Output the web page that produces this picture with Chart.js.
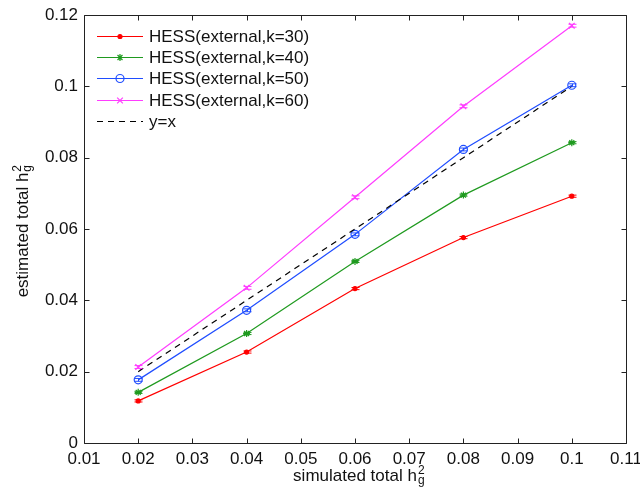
<!DOCTYPE html>
<html><head><meta charset="utf-8">
<script src="https://cdn.jsdelivr.net/npm/chart.js@4/dist/chart.umd.min.js"></script>
<style>html,body{margin:0;padding:0;background:#fff}#wrap{width:640px;height:487px}</style>
</head><body><div id="wrap"><canvas id="c" width="640" height="487"></canvas></div>
<script>
const xVals = [0.02, 0.04, 0.06, 0.08, 0.10];
const k30 = [0.0118, 0.0255, 0.0433, 0.0576, 0.0692];
const k40 = [0.0142, 0.0307, 0.0509, 0.0695, 0.0842];
const k50 = [0.0177, 0.0372, 0.0585, 0.0823, 0.1003];
const k60 = [0.0213, 0.0435, 0.0689, 0.0944, 0.1170];
const k30err = [0.0003, 0.0003, 0.0003, 0.0003, 0.0003];
const k40err = [0.0003, 0.0003, 0.0003, 0.0003, 0.0003];
const k50err = [0.0004, 0.0004, 0.0004, 0.0004, 0.0004];
const k60err = [0.0004, 0.0004, 0.0004, 0.0004, 0.0004];
const identity = [0.02, 0.04, 0.06, 0.08, 0.10];
const labels = ['HESS(external,k=30)','HESS(external,k=40)','HESS(external,k=50)','HESS(external,k=60)','y=x'];
const xTicks = [0.01,0.02,0.03,0.04,0.05,0.06,0.07,0.08,0.09,0.10,0.11];
const yTicks = [0,0.02,0.04,0.06,0.08,0.10,0.12];

const FONT = 'Liberation Sans, Arial, Helvetica, sans-serif';
const FS = 17;
const colors = ['#ff0000', '#1f9a1f', '#1f4dff', '#ff3dff', '#000000'];
const styles = ['circle','star','circle','crossRot',false];
const radii = [2, 3.5, 4, 4, 0];
const fills = [true, true, false, true, false];
const series = [k30,k40,k50,k60,identity];
const errs = [k30err,k40err,k50err,k60err,null];

const datasets = series.map((s,i)=>({
  label: labels[i],
  data: xVals.map((x,j)=>({x:x,y:s[j]})),
  borderColor: colors[i],
  backgroundColor: fills[i] ? colors[i] : 'rgba(0,0,0,0)',
  borderWidth: 1.2,
  borderDash: i===4 ? [6,5] : [],
  pointStyle: styles[i],
  pointRadius: radii[i],
  pointBorderWidth: 1.2,
  pointBorderColor: colors[i],
  pointBackgroundColor: fills[i] ? colors[i] : 'rgba(0,0,0,0)',
  tension: 0,
  fill: false,
  order: i===4 ? 0 : 5-i
}));

function fmt(v){ return String(Number(v.toFixed(4))); }

const deco = {
  id: 'deco',
  afterDatasetsDraw(chart){
    const ctx = chart.ctx, xs = chart.scales.x, ys = chart.scales.y;
    ctx.save();
    series.forEach((s,i)=>{
      if(!errs[i]) return;
      ctx.strokeStyle = colors[i]; ctx.lineWidth = 1;
      s.forEach((v,j)=>{
        const px = Math.round(xs.getPixelForValue(xVals[j]))+0.5;
        const y1 = ys.getPixelForValue(v+errs[i][j]);
        const y2 = ys.getPixelForValue(v-errs[i][j]);
        ctx.beginPath();
        ctx.moveTo(px,y1); ctx.lineTo(px,y2);
        ctx.moveTo(px-4,y1); ctx.lineTo(px+4,y1);
        ctx.moveTo(px-4,y2); ctx.lineTo(px+4,y2);
        ctx.stroke();
      });
    });
    ctx.restore();
  },
  afterDraw(chart){
    const ctx = chart.ctx, a = chart.chartArea, xs = chart.scales.x, ys = chart.scales.y;
    ctx.save();
    ctx.strokeStyle = '#222'; ctx.lineWidth = 1;
    const L = Math.round(a.left)+0.5, R = Math.round(a.right)+0.5, T = Math.round(a.top)+0.5, B = Math.round(a.bottom)+0.5;
    ctx.beginPath(); ctx.rect(L,T,R-L,B-T); ctx.stroke();
    ctx.beginPath();
    xTicks.forEach(v=>{
      const px = Math.round(xs.getPixelForValue(v))+0.5;
      ctx.moveTo(px,B); ctx.lineTo(px,B-5);
      ctx.moveTo(px,T); ctx.lineTo(px,T+5);
    });
    yTicks.forEach(v=>{
      const py = Math.round(ys.getPixelForValue(v))+0.5;
      ctx.moveTo(L,py); ctx.lineTo(L+5,py);
      ctx.moveTo(R,py); ctx.lineTo(R-5,py);
    });
    ctx.stroke();

    // legend
    const lx0 = 97, lx1 = 143, tx = 149, ly = [36, 57, 78, 100, 121];
    ctx.font = FS + 'px ' + FONT; ctx.fillStyle = '#111'; ctx.textBaseline = 'middle'; ctx.textAlign = 'left';
    datasets.forEach((d,i)=>{
      ctx.save();
      ctx.strokeStyle = colors[i]; ctx.lineWidth = 1.2;
      ctx.setLineDash(i===4 ? [6,5] : []);
      ctx.beginPath(); ctx.moveTo(lx0, ly[i]+0.5); ctx.lineTo(lx1, ly[i]+0.5); ctx.stroke();
      ctx.setLineDash([]);
      if(styles[i]){
        ctx.fillStyle = fills[i] ? colors[i] : 'rgba(0,0,0,0)';
        Chart.helpers.drawPoint(ctx, {pointStyle: styles[i], radius: radii[i], borderWidth: 1.2, rotation: 0}, (lx0+lx1)/2, ly[i]+0.5);
      }
      ctx.restore();
      ctx.fillText(labels[i], tx, ly[i]+1);
    });

    // x title
    ctx.fillStyle = '#111'; ctx.textBaseline = 'alphabetic';
    ctx.font = FS + 'px ' + FONT;
    const xt = 'simulated total h';
    const w = ctx.measureText(xt).width;
    const cx = (a.left + a.right)/2 + 4;
    const x0 = cx - (w + 8)/2;
    ctx.fillText(xt, x0, 481);
    ctx.font = '12px ' + FONT;
    ctx.fillText('2', x0 + w + 1, 474);
    ctx.fillText('g', x0 + w + 1, 484);

    // y title
    ctx.save();
    ctx.translate(28, (a.top + a.bottom)/2 + 2);
    ctx.rotate(-Math.PI/2);
    ctx.font = FS + 'px ' + FONT;
    const yt = 'estimated total h';
    const w2 = ctx.measureText(yt).width;
    const y0 = -(w2 + 8)/2;
    ctx.fillText(yt, y0, 0);
    ctx.font = '12px ' + FONT;
    ctx.fillText('2', y0 + w2 + 1, -7);
    ctx.fillText('g', y0 + w2 + 1, 3);
    ctx.restore();
    ctx.restore();
  }
};

new Chart(document.getElementById('c'), {
  type: 'line',
  data: { datasets },
  options: {
    responsive: false,
    animation: false,
    layout: { padding: { top: 15, right: 14, left: 0, bottom: 0 } },
    plugins: { legend: { display: false }, tooltip: { enabled: false } },
    scales: {
      x: {
        type: 'linear', min: 0.01, max: 0.11,
        afterBuildTicks(s){ s.ticks = xTicks.map(v=>({value:v})); },
        afterFit(s){ s.height = 44; s.paddingLeft = 0; s.paddingRight = 0; },
        grid: { display: false, drawTicks: false },
        border: { display: false },
        ticks: { callback: v=>fmt(v), color: '#111', font: { family: FONT, size: FS }, padding: 6, maxRotation: 0, autoSkip: false }
      },
      y: {
        type: 'linear', min: 0, max: 0.12,
        afterBuildTicks(s){ s.ticks = yTicks.map(v=>({value:v})); },
        afterFit(s){ s.width = 84; s.paddingTop = 0; s.paddingBottom = 0; },
        grid: { display: false, drawTicks: false },
        border: { display: false },
        ticks: { callback: v=>fmt(v), color: '#111', font: { family: FONT, size: FS }, padding: 6, autoSkip: false }
      }
    }
  },
  plugins: [deco]
});
</script>
</body></html>
